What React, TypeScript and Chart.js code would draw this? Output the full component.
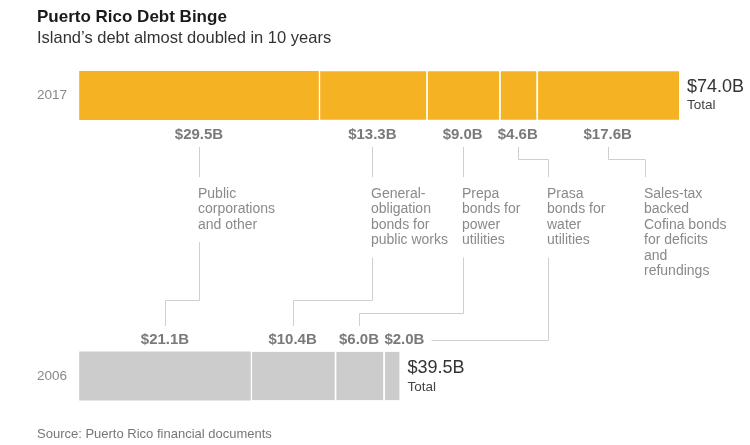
import React, { useEffect, useRef } from "react";
import { Chart, registerables } from "chart.js";

Chart.register(...registerables);

const years = ["2017", "2006"];
const segmentNames = [
  "Public corporations and other",
  "General-obligation bonds for public works",
  "Prepa bonds for power utilities",
  "Prasa bonds for water utilities",
  "Sales-tax backed Cofina bonds for deficits and refundings",
];
const debt2017 = [29.5, 13.3, 9.0, 4.6, 17.6];
const debt2006: (number | null)[] = [21.1, 10.4, 6.0, 2.0, null];
const totals = [74.0, 39.5];
const descLines = [
  ["Public", "corporations", "and other"],
  ["General-", "obligation", "bonds for", "public works"],
  ["Prepa", "bonds for", "power", "utilities"],
  ["Prasa", "bonds for", "water", "utilities"],
  ["Sales-tax", "backed", "Cofina bonds", "for deficits", "and", "refundings"],
];
const titleText = "Puerto Rico Debt Binge";
const subtitleText = "Island\u2019s debt almost doubled in 10 years";
const sourceText = "Source: Puerto Rico financial documents";

const ORANGE = "#F5B324";
const GRAY = "#CCCCCC";
const FONT = '"Liberation Sans", Arial, Helvetica, sans-serif';

const fmt = (v: number) => `$${v.toFixed(1)}B`;

const annotationPlugin = {
  id: "annotations",
  afterDatasetsDraw(chart: any) {
    const ctx: CanvasRenderingContext2D = chart.ctx;
    const xs = chart.scales.x;
    const ys = chart.scales.y;
    const y17 = ys.getPixelForValue(0);
    const y06 = ys.getPixelForValue(1);
    const bottom17 = y17 + 24.5;
    const top06 = y06 - 24;

    ctx.save();
    ctx.textBaseline = "middle";

    // Title & subtitle
    ctx.textAlign = "left";
    ctx.fillStyle = "#1a1a1a";
    ctx.font = `bold 17px ${FONT}`;
    ctx.fillText(titleText, 37, 17);
    ctx.fillStyle = "#333333";
    ctx.font = `16.5px ${FONT}`;
    ctx.fillText(subtitleText, 37, 38);

    // Source
    ctx.fillStyle = "#777777";
    ctx.font = `13px ${FONT}`;
    ctx.fillText(sourceText, 37, 434);

    // Year labels
    ctx.fillStyle = "#888888";
    ctx.font = `13.5px ${FONT}`;
    ctx.fillText(years[0], 37, y17);
    ctx.fillText(years[1], 37, y06);

    // Totals
    const tx17 = xs.getPixelForValue(totals[0]) + 8;
    const tx06 = xs.getPixelForValue(totals[1]) + 8;
    ctx.fillStyle = "#333333";
    ctx.font = `18px ${FONT}`;
    ctx.fillText(fmt(totals[0]), tx17, y17 - 8.5);
    ctx.fillText(fmt(totals[1]), tx06, y06 - 8);
    ctx.fillStyle = "#444444";
    ctx.font = `13.5px ${FONT}`;
    ctx.fillText("Total", tx17, y17 + 9.5);
    ctx.fillText("Total", tx06, y06 + 11);

    // midpoints
    const mids17: number[] = [];
    let c = 0;
    debt2017.forEach((v) => {
      mids17.push(xs.getPixelForValue(c + v / 2));
      c += v;
    });
    const mids06: (number | null)[] = [];
    c = 0;
    debt2006.forEach((v) => {
      if (v == null) {
        mids06.push(null);
      } else {
        mids06.push(xs.getPixelForValue(c + v / 2));
        c += v;
      }
    });

    // amount labels
    ctx.fillStyle = "#7a7a7a";
    ctx.font = `bold 15px ${FONT}`;
    ctx.textAlign = "center";
    const amountY17 = bottom17 + 15;
    const amountY06 = top06 - 12;
    debt2017.forEach((v, i) => ctx.fillText(fmt(v), mids17[i], amountY17));
    const nudge06 = [0, 0, 0, 13, 0];
    debt2006.forEach((v, i) => {
      if (v != null) ctx.fillText(fmt(v), (mids06[i] as number) + nudge06[i], amountY06);
    });

    // connector lines
    ctx.strokeStyle = "#cfcfcf";
    ctx.lineWidth = 1;
    const jog = [0, 0, 0, 30, 37];
    const lineTop = bottom17 + 27;
    const jogY = bottom17 + 39;
    const topEnd = bottom17 + 57;
    const textStart = bottom17 + 74;
    const lh = 15.5;
    const horizY = [300, 300, 313, 340];
    const dropEnd = top06 - 26;

    const px = (x: number) => Math.round(x) + 0.5;

    debt2017.forEach((_, i) => {
      const x0 = px(mids17[i]);
      const x1 = px(mids17[i] + jog[i]);
      ctx.beginPath();
      ctx.moveTo(x0, lineTop);
      if (jog[i]) {
        ctx.lineTo(x0, px(jogY));
        ctx.lineTo(x1, px(jogY));
      }
      ctx.lineTo(x1, topEnd);
      ctx.stroke();

      // description text
      ctx.fillStyle = "#8a8a8a";
      ctx.font = `14px ${FONT}`;
      ctx.textAlign = "left";
      const lines = descLines[i];
      lines.forEach((t, k) => ctx.fillText(t, x1 - 1.5, textStart + k * lh));

      const m06 = mids06[i];
      if (m06 != null && i < horizY.length) {
        const lowStart = textStart + (lines.length - 1) * lh + 17;
        const hy = px(horizY[i]);
        ctx.beginPath();
        ctx.moveTo(x1, lowStart);
        ctx.lineTo(x1, hy);
        if (i === 3) {
          ctx.lineTo(px(m06 + nudge06[i] + 27), hy);
        } else {
          const xb = px(m06);
          ctx.lineTo(xb, hy);
          ctx.lineTo(xb, dropEnd);
        }
        ctx.stroke();
      }
    });

    ctx.restore();
  },
};

export default function App() {
  const canvasRef = useRef<HTMLCanvasElement | null>(null);

  useEffect(() => {
    if (!canvasRef.current) return;
    const datasets = segmentNames.map((name, i) => ({
      label: name,
      data: [debt2017[i], debt2006[i]],
      backgroundColor: [ORANGE, GRAY],
      borderColor: "#ffffff",
      borderWidth: i === 0 ? 0 : { left: 2, right: 0, top: 0, bottom: 0 },
      borderSkipped: false,
      barThickness: 48.5,
      clip: false,
      stack: "debt",
    }));
    const chart = new Chart(canvasRef.current, {
      type: "bar",
      data: { labels: years, datasets: datasets as any },
      options: {
        indexAxis: "y",
        animation: false,
        responsive: false,
        maintainAspectRatio: false,
        events: [],
        layout: { padding: { left: 79.5, right: 71, top: 95.5, bottom: 69 } },
        plugins: {
          legend: { display: false },
          tooltip: { enabled: false },
          title: { display: false },
        },
        scales: {
          x: { type: "linear", min: 0, max: 74, stacked: true, display: false },
          y: {
            type: "category",
            stacked: true,
            display: false,
            offset: false,
            grid: { offset: false },
          },
        },
      } as any,
      plugins: [annotationPlugin],
    });
    return () => chart.destroy();
  }, []);

  return (
    <div style={{ position: "fixed", left: 0, top: 0, width: 750, height: 445, background: "#fff" }}>
      <canvas ref={canvasRef} width={750} height={445} style={{ width: 750, height: 445, display: "block" }} />
    </div>
  );
}
